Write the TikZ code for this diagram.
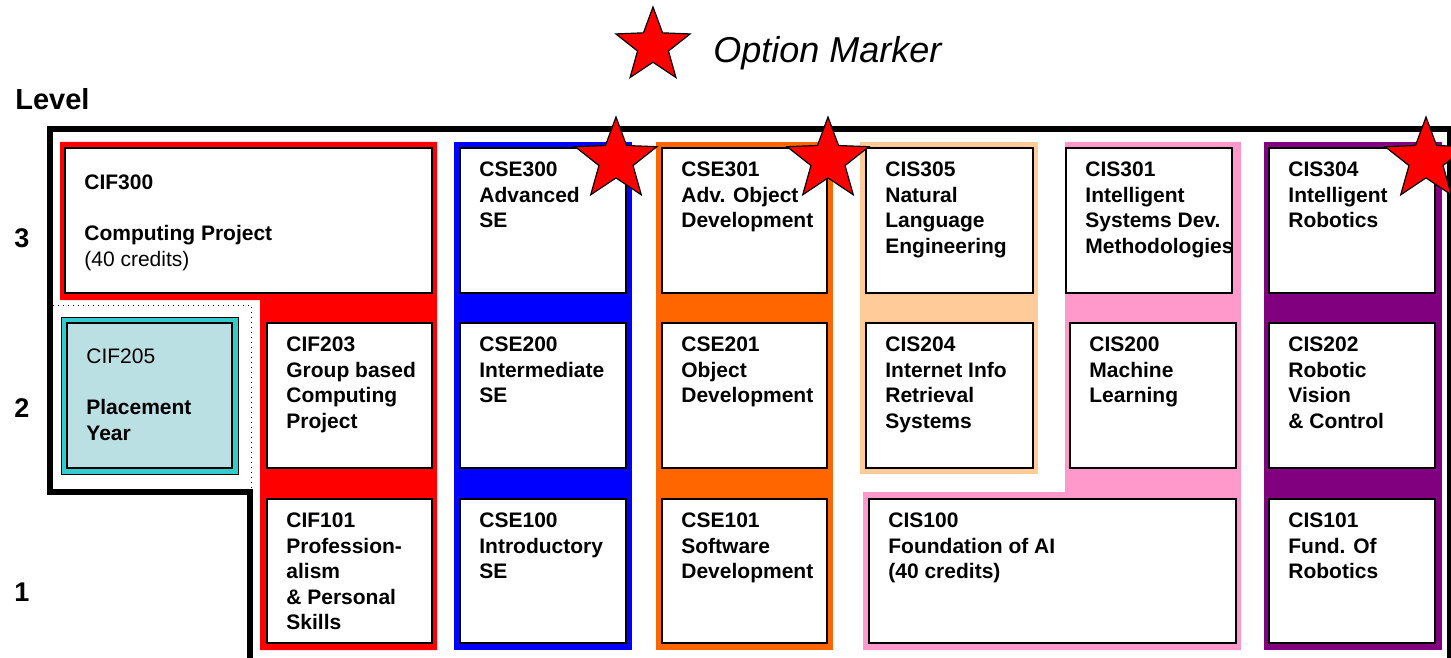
\documentclass[tikz,border=0pt]{standalone}
\usepackage{fontspec}
\setmainfont{Liberation Sans}
\usetikzlibrary{shapes.geometric,fit}

\definecolor{cifred}{RGB}{255,0,0}
\definecolor{cseblue}{RGB}{0,0,255}
\definecolor{cseorange}{RGB}{255,102,0}
\definecolor{cispeach}{RGB}{255,204,153}
\definecolor{cispink}{RGB}{255,153,204}
\definecolor{cispurple}{RGB}{128,0,128}
\definecolor{placeteal}{RGB}{51,204,204}
\definecolor{placeblue}{RGB}{187,224,227}

\begin{document}
\begin{tikzpicture}[x=0.5pt,y=-0.5pt,
  course/.style={draw,line width=1pt,fill=white,inner sep=0pt},
  ctext/.style={anchor=north west,xshift=10pt,yshift=-7.25pt,inner sep=0pt,align=left,
    font=\fontsize{10.5}{12.8}\selectfont\bfseries},
  lvl/.style={inner sep=0pt,font=\fontsize{13.5}{16}\selectfont\bfseries},
  optstar/.style={star,star points=5,star point ratio=2.4,draw,fill=red,line width=0.6pt,inner sep=0pt}]

\useasboundingbox (0,0) rectangle (1451,658);

% legend and level labels
\node[optstar,minimum size=39pt] (keystar) at (653,46) {};
\node[anchor=base west,inner sep=0pt,font=\fontsize{18}{21}\selectfont\itshape] (keytext) at (713,63) {Option Marker};
\node[anchor=base west,inner sep=0pt,font=\fontsize{14.5}{17}\selectfont\bfseries] (level) at (15,110) {Level};
\node[lvl] (lvl3) at (22,238) {3};
\node[lvl] (lvl2) at (22,408) {2};
\node[lvl] (lvl1) at (22,592) {1};

% outer frame
\draw[line width=3pt] (250,700) -- (250,491.5) -- (50,491.5) -- (50,129.5) -- (1449.5,129.5) -- (1449.5,700);
\draw[dotted,line width=0.5pt] (53,305) -- (251,305) -- (251,488);

% option columns
\fill[cifred] (60,142) -- (437,142) -- (437,650) -- (260,650) -- (260,300) -- (60,300) -- cycle;
\fill[cseblue] (454,142) rectangle (632,650);
\fill[cseorange] (656,142) rectangle (833,650);
\fill[cispeach] (860,142) rectangle (1038,474);
\fill[cispink] (1065,142) -- (1241,142) -- (1241,650) -- (863,650) -- (863,492) -- (1065,492) -- cycle;
\fill[cispurple] (1264,142) rectangle (1442,650);

% modules
\node[course,fit={(65,148) (432,293)}] (cif300) {};
\node[course,fit={(267,323) (432,468)}] (cif203) {};
\node[course,fit={(267,499) (432,643)}] (cif101) {};
\node[draw,line width=0.5pt,fill=placeteal,inner sep=0pt,fit={(61,317) (238,474)}] (cif205out) {};
\node[course,fill=placeblue,fit={(67,323) (232,468)}] (cif205) {};

\node[course,fit={(460,148) (626,293)}] (cse300) {};
\node[course,fit={(460,323) (626,468)}] (cse200) {};
\node[course,fit={(460,499) (626,643)}] (cse100) {};

\node[course,fit={(662,148) (827,293)}] (cse301) {};
\node[course,fit={(662,323) (827,468)}] (cse201) {};
\node[course,fit={(662,499) (827,643)}] (cse101) {};

\node[course,fit={(866,148) (1033,293)}] (cis305) {};
\node[course,fit={(866,323) (1033,468)}] (cis204) {};
\node[course,fit={(1066,148) (1232,293)}] (cis301) {};
\node[course,fit={(1070,323) (1236,468)}] (cis200) {};
\node[course,fit={(869,499) (1236,643)}] (cis100) {};

\node[course,fit={(1269,148) (1435,293)}] (cis304) {};
\node[course,fit={(1269,323) (1435,468)}] (cis202) {};
\node[course,fit={(1269,499) (1435,643)}] (cis101) {};

\node[ctext,yshift=-6.5pt] at (cif300.north west) {CIF300\\[12.8pt]Computing Project\\{\mdseries (40 credits)}};
\node[ctext] at (cif203.north west) {CIF203\\Group based\\Computing\\Project};
\node[ctext] at (cif101.north west) {CIF101\\Profession-\\alism\\\& Personal\\Skills};
\node[ctext,yshift=-6pt] at (cif205.north west) {{\mdseries CIF205}\\[12.8pt]Placement\\Year};

\node[ctext] at (cse300.north west) {CSE300\\Advanced\\SE};
\node[ctext] at (cse200.north west) {CSE200\\Intermediate\\SE};
\node[ctext] at (cse100.north west) {CSE100\\Introductory\\SE};

\node[ctext] at (cse301.north west) {CSE301\\Adv. Object\\Development};
\node[ctext] at (cse201.north west) {CSE201\\Object\\Development};
\node[ctext] at (cse101.north west) {CSE101\\Software\\Development};

\node[ctext] at (cis305.north west) {CIS305\\Natural\\Language\\Engineering};
\node[ctext] at (cis204.north west) {CIS204\\Internet Info\\Retrieval\\Systems};
\node[ctext] at (cis301.north west) {CIS301\\Intelligent\\Systems Dev.\\Methodologies};
\node[ctext] at (cis200.north west) {CIS200\\Machine\\Learning};
\node[ctext] at (cis100.north west) {CIS100\\Foundation of AI\\(40 credits)};

\node[ctext] at (cis304.north west) {CIS304\\Intelligent\\Robotics};
\node[ctext] at (cis202.north west) {CIS202\\Robotic\\Vision\\\& Control};
\node[ctext] at (cis101.north west) {CIS101\\Fund. Of\\Robotics};

% option markers
\node[optstar,minimum size=43pt] (star1) at (616,160) {};
\node[optstar,minimum size=43pt] (star2) at (828,160) {};
\node[optstar,minimum size=43pt] (star3) at (1426,160) {};
\end{tikzpicture}
\end{document}
